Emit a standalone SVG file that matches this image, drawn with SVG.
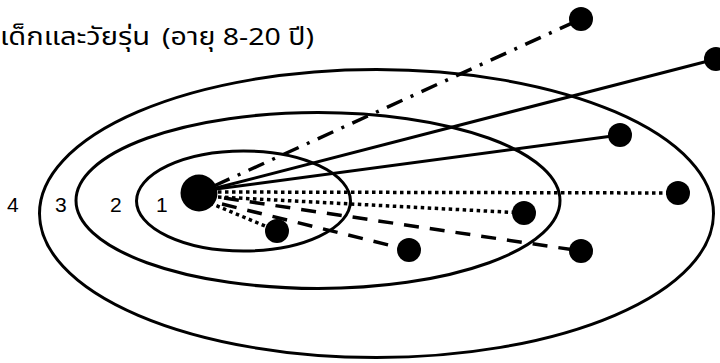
<svg xmlns="http://www.w3.org/2000/svg" width="720" height="363" viewBox="0 0 720 363">
<style>
.ring{fill:none;stroke:#000;stroke-width:3}
.ln{fill:none;stroke:#000;stroke-width:3}
.dot{stroke-dasharray:3.5 3.5;stroke-width:3.5}
.dash{stroke-dasharray:15 11;stroke-width:3.5}
.dd{stroke-dasharray:17 9 3 9;stroke-width:3.5}
.nd{fill:#000}
.lbl{font-family:"Liberation Sans",Arial,sans-serif;font-size:21px;fill:#000}
.title{font-family:"Noto Sans","Noto Sans Thai","DejaVu Sans",sans-serif;font-size:24px;fill:#000}
</style>
<rect width="720" height="363" fill="#fff"/>
<g id="title">
<text class="title" x="0" y="45" textLength="150" lengthAdjust="spacingAndGlyphs">เด็กและวัยรุ่น</text>
<text class="title" x="162" y="45" textLength="152" lengthAdjust="spacingAndGlyphs">(อายุ 8-20 ปี)</text>
</g>
<g id="rings">
<ellipse class="ring" cx="376.5" cy="213.5" rx="337" ry="144"/>
<ellipse class="ring" cx="318" cy="200.5" rx="242" ry="88"/>
<ellipse class="ring" cx="243.5" cy="201" rx="107" ry="50"/>
</g>
<g id="labels">
<text class="lbl" x="7" y="212">4</text>
<text class="lbl" x="55" y="212">3</text>
<text class="lbl" x="110" y="212">2</text>
<text class="lbl" x="156" y="212">1</text>
</g>
<g id="connectors">
<line class="ln dd" x1="214" y1="186" x2="581" y2="19"/>
<line class="ln" x1="216" y1="188" x2="716" y2="59"/>
<line class="ln" x1="216" y1="189" x2="620" y2="135"/>
<line class="ln dot" x1="218" y1="192" x2="678" y2="193"/>
<line class="ln dot" x1="218" y1="197" x2="524" y2="213"/>
<line class="ln dot" x1="210" y1="203" x2="277" y2="231"/>
<line class="ln dash" x1="222" y1="204" x2="409" y2="250"/>
<line class="ln dash" x1="224" y1="198" x2="581" y2="251"/>
</g>
<g id="center"><circle class="nd" cx="199" cy="193" r="18.5"/></g>
<g id="n1"><circle class="nd" cx="581" cy="19" r="12"/></g>
<g id="n2"><circle class="nd" cx="716" cy="59" r="12"/></g>
<g id="n3"><circle class="nd" cx="620" cy="135" r="12"/></g>
<g id="n4"><circle class="nd" cx="678" cy="193" r="12"/></g>
<g id="n5"><circle class="nd" cx="524" cy="213" r="12"/></g>
<g id="n6"><circle class="nd" cx="277" cy="231" r="12"/></g>
<g id="n7"><circle class="nd" cx="409" cy="250" r="12"/></g>
<g id="n8"><circle class="nd" cx="581" cy="251" r="12"/></g>
</svg>
